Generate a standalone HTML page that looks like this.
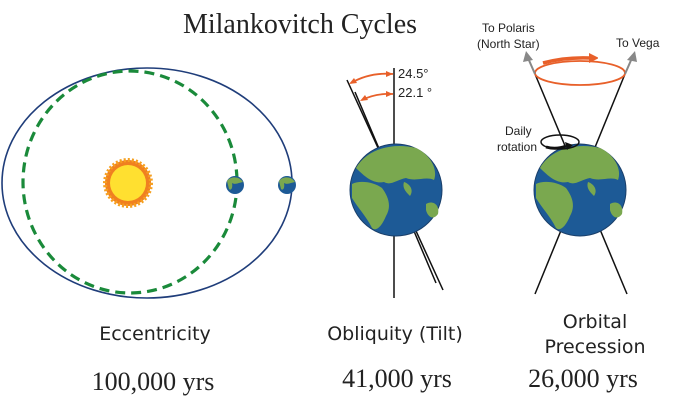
<!DOCTYPE html>
<html><head><style>body{margin:0;background:#fff}svg{display:block}</style></head><body>
<svg width="682" height="406" viewBox="0 0 682 406" xmlns="http://www.w3.org/2000/svg">
<defs>
<g id="earth">
<circle cx="0" cy="0" r="46" fill="#1d5a96" stroke="#1a3f6a" stroke-width="1"/>
<path d="M-40,-22 C-30,-40 -5,-48 20,-42 C35,-35 42,-20 38,-10 C30,-14 20,-8 10,-12 C0,-10 -5,-4 -12,-8 C-22,-6 -30,-12 -40,-22Z" fill="#7aa84f"/>
<path d="M-44,-6 C-36,-10 -22,-8 -14,-2 C-8,6 -4,16 -10,26 C-14,36 -20,42 -24,38 C-30,26 -38,18 -44,8Z" fill="#7aa84f"/>
<path d="M30,14 C36,10 44,14 42,24 C38,30 32,28 30,20Z" fill="#7aa84f"/>
<path d="M8,-8 C14,-6 18,0 14,6 C10,2 6,-2 8,-8Z" fill="#7aa84f"/>
</g>
<g id="earthS"><circle r="9" fill="#1d5a96"/><path d="M-8,-4 C-4,-9 4,-9 8,-3 C3,-2 0,0 -3,-2 C-2,3 -4,6 -6,4Z" fill="#7aa84f"/></g>
</defs>
<text x="300" y="33" text-anchor="middle" font-family="Liberation Serif, serif" font-size="28" fill="#222">Milankovitch Cycles</text>

<ellipse cx="147" cy="183" rx="145" ry="115" fill="none" stroke="#1f3d7a" stroke-width="1.6"/>
<ellipse cx="130" cy="182" rx="107" ry="111" fill="none" stroke="#1a8a3a" stroke-width="3.2" stroke-dasharray="10,6"/>
<circle cx="128" cy="183" r="23" fill="#f08020"/>
<circle cx="128" cy="183" r="23" fill="none" stroke="#f5a020" stroke-width="4" stroke-dasharray="2,2"/>
<circle cx="128" cy="183" r="18" fill="#ffe030"/>
<use href="#earthS" x="235" y="185"/>
<use href="#earthS" x="287" y="185"/>

<line x1="394" y1="68" x2="394" y2="298" stroke="#111" stroke-width="1.5"/>
<line x1="347" y1="80" x2="443" y2="290" stroke="#111" stroke-width="1.5"/>
<line x1="355" y1="92" x2="436" y2="283" stroke="#111" stroke-width="1.5"/>
<use href="#earth" x="396" y="190"/>
<path d="M351,83 Q370,72 393,74" fill="none" stroke="#e8602a" stroke-width="1.8"/>
<path d="M362,100 Q376,93 393,94" fill="none" stroke="#e8602a" stroke-width="1.8"/>
<path d="M349,84 l8,-1 l-3,-5Z M393,74 l-7,-3 l0,6Z M360,101 l8,-1 l-3,-5Z M393,94 l-7,-3 l0,6Z" fill="#e8602a"/>
<text x="398" y="78" font-family="Liberation Sans, sans-serif" font-size="13" fill="#222">24.5°</text>
<text x="398" y="97" font-family="Liberation Sans, sans-serif" font-size="13" fill="#222">22.1 °</text>

<line x1="535" y1="74" x2="627" y2="294" stroke="#111" stroke-width="1.5"/>
<line x1="625" y1="74" x2="535" y2="294" stroke="#111" stroke-width="1.5"/>
<use href="#earth" x="580" y="190"/>
<ellipse cx="580" cy="73" rx="45" ry="12" fill="none" stroke="#e8602a" stroke-width="1.8"/>
<path d="M543,63 Q565,57 590,58" fill="none" stroke="#e8602a" stroke-width="3.5"/>
<path d="M589,53 l10,5 l-10,5Z" fill="#e8602a"/>
<rect x="598" y="55" width="6" height="6" fill="#fff"/>
<line x1="535" y1="74" x2="528" y2="58" stroke="#888" stroke-width="2"/>
<path d="M523,62 l3,-11 l7,9Z" fill="#888"/>
<line x1="625" y1="74" x2="632" y2="58" stroke="#888" stroke-width="2"/>
<path d="M627,60 l8,-9 l2,11Z" fill="#888"/>
<text x="482" y="32" font-family="Liberation Sans, sans-serif" font-size="12" fill="#222">To Polaris</text>
<text x="477" y="48" font-family="Liberation Sans, sans-serif" font-size="12" fill="#222">(North Star)</text>
<text x="616" y="47" font-family="Liberation Sans, sans-serif" font-size="12" fill="#222">To Vega</text>
<text x="505" y="135" font-family="Liberation Sans, sans-serif" font-size="12" fill="#222">Daily</text>
<text x="497" y="151" font-family="Liberation Sans, sans-serif" font-size="12" fill="#222">rotation</text>
<ellipse cx="560" cy="142" rx="19" ry="7" fill="none" stroke="#111" stroke-width="1.5"/>
<path d="M546,147 Q556,150 566,146" fill="none" stroke="#111" stroke-width="3"/>
<path d="M565,142 l8,3 l-6,5Z" fill="#111"/>

<g font-family="DejaVu Sans, sans-serif" font-size="19" fill="#222" text-anchor="middle">
<text x="155" y="340">Eccentricity</text>
<text x="395" y="340">Obliquity (Tilt)</text>
<text x="595" y="328">Orbital</text>
<text x="595" y="353">Precession</text>
</g>
<g font-family="Liberation Serif, serif" font-size="26" fill="#222" text-anchor="middle">
<text x="153" y="390">100,000 yrs</text>
<text x="397" y="387">41,000 yrs</text>
<text x="583" y="387">26,000 yrs</text>
</g>
</svg>
</body></html>
